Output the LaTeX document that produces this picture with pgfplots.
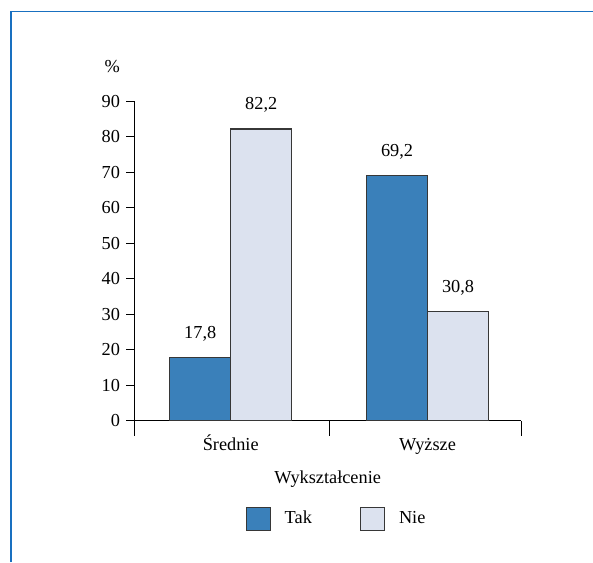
\documentclass[border=0pt]{standalone}
\usepackage{pgfplots}
\pgfplotsset{compat=1.18}
\usepackage{fontspec}
\setmainfont{Liberation Serif}

\definecolor{frameblue}{RGB}{25,112,192}
\definecolor{takblue}{RGB}{58,128,186}
\definecolor{nielight}{RGB}{220,226,239}
\definecolor{edgegray}{RGB}{55,55,55}

\begin{document}
\fontsize{18.3}{22}\selectfont
\begin{tikzpicture}
\begin{axis}[
  at={(134.3pt,141.2pt)}, anchor=south west,
  width=386.7pt, height=319.5pt, scale only axis,
  xmin=-0.49, xmax=1.475, ymin=0, ymax=90,
  axis x line*=bottom, axis y line*=left,
  axis line style={-, line width=0.9pt, black},
  /pgf/number format/assume math mode=true,
  ytick={0,10,...,90},
  tick align=outside,
  major tick length=8pt,
  tick style={line width=0.9pt, black},
  xtick={0,1}, xticklabels={Średnie,Wyższe},
  xtick style={draw=none},
  xticklabel style={anchor=base, yshift=-22pt},
  extra x ticks={-0.49,0.5,1.475},
  extra x tick labels={},
  extra x tick style={major tick length=15pt, xtick style={draw=black}},
  xlabel={Wykształcenie},
  every axis x label/.style={at={(axis description cs:0.5,-0.196)}, anchor=base},
  ylabel={\%},
  every axis y label/.style={at={(axis description cs:-0.057,1.11)}, anchor=center},
  bar width=0.31,
  ybar=0pt,
  nodes near coords={\pgfmathprintnumber[use comma,fixed,fixed zerofill,precision=1]{\pgfplotspointmeta}},
  every node near coord/.append style={anchor=base, yshift=19pt, black},
  legend style={at={(axis description cs:0.523,-0.307)}, anchor=center,
    draw=none, fill=none, legend columns=2,
    /tikz/every odd column/.append style={column sep=12pt},
    /tikz/every even column/.append style={column sep=46pt}},
  legend image code/.code={\draw[#1, line width=1.1pt] (0pt,-11.5pt) rectangle (24pt,11.5pt);},
]
\addplot[fill=takblue, draw=edgegray, line width=1.1pt, bar shift=-0.155]
  coordinates {(0,17.8) (1,69.2)};
\addplot[fill=nielight, draw=edgegray, line width=1.1pt, bar shift=0.155]
  coordinates {(0,82.2) (1,30.8)};
\legend{Tak,Nie}
\end{axis}
\draw[frameblue, line width=1.8pt] (10.7pt,0pt) -- (10.7pt,550.5pt) -- (593pt,550.5pt);
\pgfresetboundingbox
\useasboundingbox (0pt,0pt) rectangle (593pt,562pt);
\end{tikzpicture}
\end{document}
